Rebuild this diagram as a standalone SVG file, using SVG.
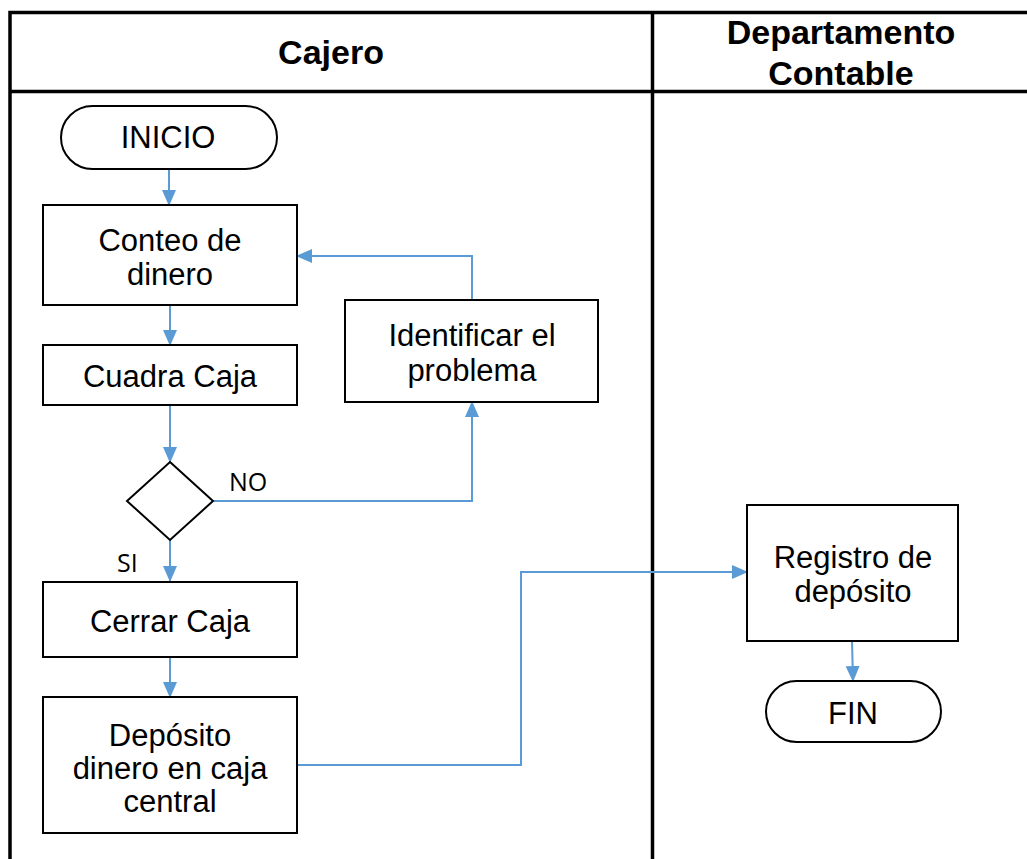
<svg xmlns="http://www.w3.org/2000/svg" width="1027" height="859" viewBox="0 0 1027 859">
  <style>
    .lane { fill: none; stroke: #000; stroke-width: 3.5; }
    .box { fill: #fff; stroke: #000; stroke-width: 2; }
    .lbl { font-family: "Liberation Sans", Arial, sans-serif; font-size: 31px; fill: #000; text-anchor: middle; }
    .head { font-family: "Liberation Sans", Arial, sans-serif; font-size: 34px; font-weight: bold; fill: #000; text-anchor: middle; }
    .cond { font-family: "Open Sans", "Noto Sans", sans-serif; font-size: 25px; fill: #000; }
    .flow { fill: none; stroke: #5B9BD5; stroke-width: 2; }
  </style>
  <defs>
    <marker id="arrow" viewBox="0 0 16 14" refX="15" refY="7" markerWidth="16" markerHeight="14" markerUnits="userSpaceOnUse" orient="auto">
      <path d="M0,0 L16,7 L0,14 Z" fill="#5B9BD5"/>
    </marker>
  </defs>
  <rect width="1027" height="859" fill="#fff"/>

  <!-- swimlane frame -->
  <g id="lanes">
    <path class="lane" d="M10,859 V12.5 H1027"/>
    <path class="lane" d="M10,91.5 H1027"/>
    <path class="lane" d="M652.5,12.5 V859"/>
    <text class="head" x="331" y="64">Cajero</text>
    <text class="head" x="841" y="44">Departamento</text>
    <text class="head" x="841" y="85">Contable</text>
  </g>

  <!-- connectors -->
  <g id="connectors">
    <path class="flow" d="M169,169 V205" marker-end="url(#arrow)"/>
    <path class="flow" d="M170,305 V345" marker-end="url(#arrow)"/>
    <path class="flow" d="M170,405 V462" marker-end="url(#arrow)"/>
    <path class="flow" d="M213,501 H472 V402" marker-end="url(#arrow)"/>
    <path class="flow" d="M472,300 V256 H297" marker-end="url(#arrow)"/>
    <path class="flow" d="M170,540 V581" marker-end="url(#arrow)"/>
    <path class="flow" d="M170,657 V697" marker-end="url(#arrow)"/>
    <path class="flow" d="M297,765 H521 V572 H747" marker-end="url(#arrow)"/>
    <path class="flow" d="M852,641 L853,681" marker-end="url(#arrow)"/>
    <text class="cond" x="229" y="491">NO</text>
    <text class="cond" x="117" y="572">SI</text>
  </g>

  <g id="inicio">
    <rect class="box" x="61" y="106" width="216" height="63" rx="31.5"/>
    <text class="lbl" x="168" y="148">INICIO</text>
  </g>

  <g id="conteo">
    <rect class="box" x="43" y="205" width="254" height="100"/>
    <text class="lbl" x="170" y="251">Conteo de</text>
    <text class="lbl" x="170" y="285">dinero</text>
  </g>

  <g id="cuadra">
    <rect class="box" x="43" y="345" width="254" height="60"/>
    <text class="lbl" x="170" y="387">Cuadra Caja</text>
  </g>

  <g id="decision">
    <polygon class="box" points="170,462 213,501 170,540 127,501"/>
  </g>

  <g id="identificar">
    <rect class="box" x="345" y="300" width="253" height="102"/>
    <text class="lbl" x="472" y="346">Identificar  el</text>
    <text class="lbl" x="472" y="381">problema</text>
  </g>

  <g id="cerrar">
    <rect class="box" x="43" y="582" width="254" height="75"/>
    <text class="lbl" x="170" y="632">Cerrar Caja</text>
  </g>

  <g id="deposito">
    <rect class="box" x="43" y="697" width="254" height="136"/>
    <text class="lbl" x="170" y="746">Depósito</text>
    <text class="lbl" x="170" y="779">dinero en caja</text>
    <text class="lbl" x="170" y="812">central</text>
  </g>

  <g id="registro">
    <rect class="box" x="747" y="505" width="211" height="136"/>
    <text class="lbl" x="853" y="568">Registro de</text>
    <text class="lbl" x="853" y="602">depósito</text>
  </g>

  <g id="fin">
    <rect class="box" x="766" y="681" width="175" height="61" rx="30.5"/>
    <text class="lbl" x="853" y="724">FIN</text>
  </g>
</svg>
